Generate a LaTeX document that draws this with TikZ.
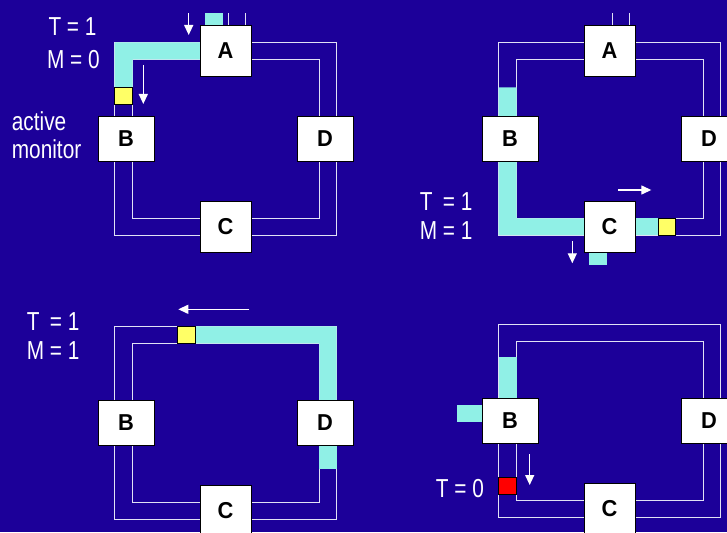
\documentclass[tikz,border=0pt]{standalone}
\usepackage{fontspec}
\usetikzlibrary{arrows.meta}
\newfontfamily\labfont{Liberation Sans}[FakeStretch=0.8]
\newfontfamily\boxfont{Liberation Sans}[FakeStretch=0.95]
\definecolor{bg}{RGB}{28,0,153}
\definecolor{tok}{RGB}{144,240,230}
\definecolor{ringc}{RGB}{225,225,245}
\definecolor{yel}{RGB}{255,255,102}
\definecolor{redf}{RGB}{255,0,0}
\newcommand{\tworings}{%
  \draw[ring] (114.5,42.3) rectangle (336.7,235);
  \draw[ring] (132.7,59.3) rectangle (319.3,218.3);}
\begin{document}
\begin{tikzpicture}[x=1pt,y=-1pt,
 ring/.style={draw=ringc,line width=1pt},
 stn/.style={draw=black,fill=white,line width=0.8pt,inner sep=0pt,font=\boxfont\bfseries\fontsize{23}{23}\selectfont},
 sq/.style={stn,minimum width=51pt,minimum height=51pt},
 wd/.style={stn,minimum width=56pt,minimum height=45pt},
 lab/.style={text=white,inner sep=0pt,font=\labfont\fontsize{26}{26}\selectfont},
 arr/.style={draw=white,line width=1.3pt,-{Triangle[width=9pt,length=10pt]}},
 flag/.style={draw=black,line width=0.8pt,inner sep=0pt,minimum width=17.5pt,minimum height=17pt}]
\useasboundingbox (0,0) rectangle (727,532);
\clip (0,0) rectangle (727,532);
\fill[bg] (0,0) rectangle (727,532);

% ---------- panel 1 ----------
\begin{scope}
  \tworings
  \fill[tok] (200,42.3) -- (114.5,42.3) -- (114.5,87.3) -- (132.7,87.3) -- (132.7,59.3) -- (200,59.3) -- cycle;
  \fill[tok] (205.3,13.3) rectangle (222.7,25.3);
  \node[sq] (A1) at (225.5,50.7) {A};
  \node[wd] (B1) at (126,138.7) {B};
  \node[wd] (D1) at (325,138.7) {D};
  \node[sq] (C1) at (225.5,226.5) {C};
  \draw[ring] (A1.north) ++(2.8,0) -- ++(0,-12);
  \draw[ring] (A1.north) ++(20.2,0) -- ++(0,-12);
  \node[flag,fill=yel] (Y1) at (123.6,95.8) {};
  \draw[arr] (188.7,13.3) -- (188.7,35);
  \draw[arr] (143.3,65) -- (143.3,104);
  \node[lab,anchor=base] (t1) at (72.5,36) {T = 1};
  \node[lab,anchor=base] (m1) at (73.3,68.3) {M = 0};
  \node[lab,anchor=base west] (am1) at (11.7,130) {active};
  \node[lab,anchor=base west] (am2) at (11.7,158.3) {monitor};
\end{scope}

% ---------- panel 2 ----------
\begin{scope}[shift={(384,0)}]
  \tworings
  \fill[tok] (114.5,87.3) -- (132.7,87.3) -- (132.7,218.3) -- (200,218.3) -- (200,235) -- (114.5,235) -- cycle;
  \fill[tok] (251,218.3) rectangle (274.3,235);
  \fill[tok] (205.3,251.7) rectangle (222.7,265);
  \node[sq] (A2) at (225.5,50.7) {A};
  \node[wd] (B2) at (126,138.7) {B};
  \node[wd] (D2) at (325,138.7) {D};
  \node[sq] (C2) at (225.5,226.5) {C};
  \draw[ring] (A2.north) ++(2.8,0) -- ++(0,-12);
  \draw[ring] (A2.north) ++(20.2,0) -- ++(0,-12);
  \node[flag,fill=yel] (Y2) at (283,226.7) {};
  \draw[arr] (234,190) -- (267.3,190);
  \draw[arr] (188.3,241) -- (188.3,263.3);
  \node[lab,anchor=base west] (t2) at (35.7,210) {\rlap{T}\hphantom{M} = 1};
  \node[lab,anchor=base west] (m2) at (35.7,239) {M = 1};
\end{scope}

% ---------- panel 3 ----------
\begin{scope}[shift={(0,284)}]
  \tworings
  \fill[tok] (194.7,42.3) -- (336.7,42.3) -- (336.7,116.2) -- (319.3,116.2) -- (319.3,59.3) -- (194.7,59.3) -- cycle;
  \fill[tok] (319.3,161) rectangle (336.7,185.3);
  \node[wd] (B3) at (126,138.7) {B};
  \node[wd] (D3) at (325,138.7) {D};
  \node[sq] (C3) at (225.5,226.5) {C};
  \node[flag,fill=yel] (Y3) at (186.2,50.8) {};
  \draw[arr] (249.3,25.3) -- (178.3,25.3);
  \node[lab,anchor=base west] (t3) at (26.7,46.3) {\rlap{T}\hphantom{M} = 1};
  \node[lab,anchor=base west] (m3) at (26.7,75.3) {M = 1};
\end{scope}

% ---------- panel 4 ----------
\begin{scope}[shift={(384,282)}]
  \tworings
  \fill[tok] (114.5,75) rectangle (132.7,116.2);
  \fill[tok] (73.3,123.3) rectangle (98,139.7);
  \node[wd] (B4) at (126,138.7) {B};
  \node[wd] (D4) at (325,138.7) {D};
  \node[sq] (C4) at (225.5,226.5) {C};
  \node[flag,fill=redf] (R4) at (123.6,204.2) {};
  \draw[arr] (145.7,172.3) -- (145.7,203);
  \node[lab,anchor=base west] (t4) at (51.7,215.7) {T = 0};
\end{scope}
\end{tikzpicture}
\end{document}
